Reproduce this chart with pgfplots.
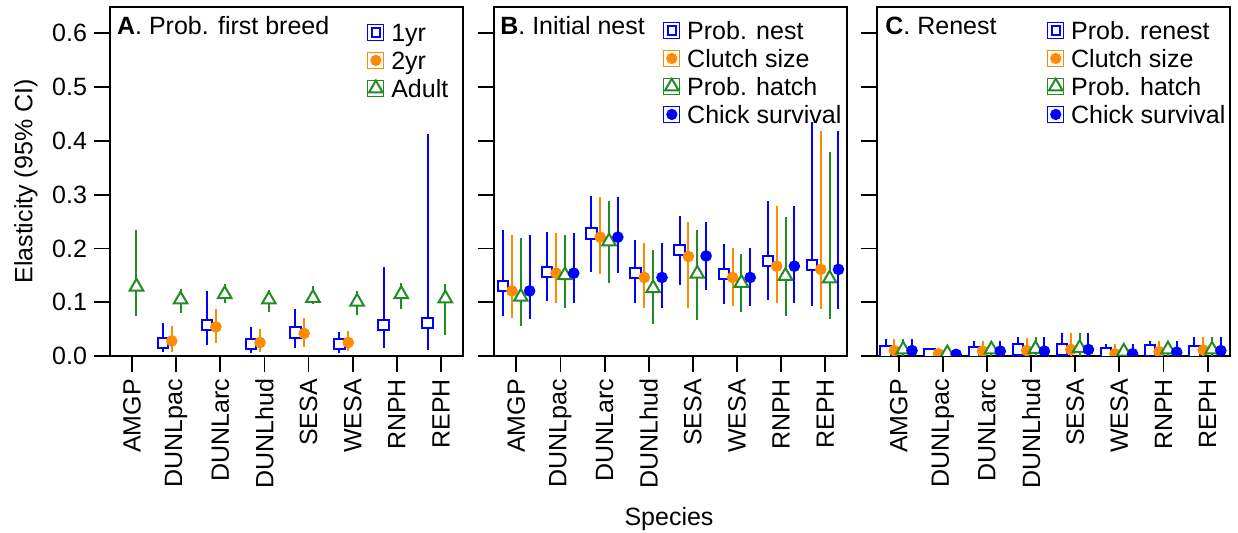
\documentclass[border=0pt]{standalone}
\usepackage{fontspec}
\setmainfont{Liberation Sans}
\usepackage{pgfplots}
\usepackage{pgfplotstable}
\pgfplotsset{compat=1.18}

\definecolor{cblue}{RGB}{0,0,255}
\definecolor{corange}{RGB}{255,140,0}
\definecolor{cgreen}{RGB}{34,139,34}
\newcommand{\fs}{\fontsize{12.5}{15}\selectfont}

% i = species index, y = elasticity, lo/hi = 95% CI
\pgfplotstableread{
i y lo hi
2 0.024 0.008 0.062
3 0.058 0.020 0.120
4 0.022 0.005 0.053
5 0.044 0.014 0.087
6 0.022 0.006 0.044
7 0.058 0.014 0.165
8 0.061 0.011 0.413
}\Aone
\pgfplotstableread{
i y lo hi
2 0.028 0.008 0.056
3 0.054 0.024 0.087
4 0.025 0.008 0.050
5 0.042 0.017 0.071
6 0.025 0.009 0.047
}\Atwo
\pgfplotstableread{
i y lo hi
1 0.129 0.075 0.234
2 0.105 0.080 0.125
3 0.115 0.099 0.134
4 0.105 0.081 0.122
5 0.108 0.097 0.130
6 0.101 0.077 0.121
7 0.115 0.087 0.135
8 0.107 0.039 0.134
}\Aad

\pgfplotstableread{
i y lo hi
1 0.130 0.074 0.234
2 0.156 0.102 0.231
3 0.228 0.157 0.298
4 0.154 0.099 0.216
5 0.197 0.132 0.261
6 0.152 0.096 0.208
7 0.177 0.105 0.289
8 0.169 0.093 0.435
}\Bnest
\pgfplotstableread{
i y lo hi
1 0.121 0.070 0.225
2 0.154 0.099 0.228
3 0.221 0.152 0.295
4 0.146 0.090 0.211
5 0.185 0.089 0.250
6 0.146 0.093 0.201
7 0.167 0.099 0.279
8 0.161 0.087 0.419
}\Bclutch
\pgfplotstableread{
i y lo hi
1 0.110 0.056 0.219
2 0.150 0.090 0.225
3 0.213 0.135 0.289
4 0.126 0.060 0.198
5 0.153 0.066 0.234
6 0.136 0.081 0.190
7 0.149 0.075 0.259
8 0.144 0.068 0.380
}\Bhatch
\pgfplotstableread{
i y lo hi
1 0.121 0.068 0.225
2 0.154 0.099 0.228
3 0.221 0.154 0.295
4 0.146 0.090 0.211
5 0.186 0.123 0.250
6 0.146 0.093 0.201
7 0.167 0.099 0.279
8 0.161 0.087 0.419
}\Bchick

\pgfplotstableread{
i y lo hi
1 0.008 0 0.032
2 0.004 0 0.012
3 0.007 0 0.028
4 0.012 0 0.036
5 0.012 0 0.043
6 0.005 0 0.022
7 0.010 0 0.028
8 0.008 0 0.036
}\Crenest
\pgfplotstableread{
i y lo hi
1 0.010 0 0.032
2 0.004 0 0.008
3 0.009 0 0.028
4 0.010 0 0.034
5 0.012 0 0.043
6 0.004 0 0.022
7 0.008 0 0.028
8 0.011 0 0.036
}\Cclutch
\pgfplotstableread{
i y lo hi
1 0.012 0 0.032
2 0.005 0 0.010
3 0.012 0 0.027
4 0.013 0 0.036
5 0.015 0 0.043
6 0.008 0 0.022
7 0.012 0 0.028
8 0.012 0 0.036
}\Chatch
\pgfplotstableread{
i y lo hi
1 0.010 0 0.032
2 0.003 0 0.008
3 0.009 0 0.028
4 0.009 0 0.036
5 0.012 0 0.043
6 0.004 0 0.022
7 0.007 0 0.028
8 0.010 0 0.036
}\Cchick

\pgfplotsset{
  panel/.style={
    scale only axis, width=176.5pt, height=174.5pt,
    anchor=south west,
    xmin=0.5, xmax=8.5, ymin=0, ymax=0.649,
    xtick={1,2,3,4,5,6,7,8},
    xticklabels={AMGP,DUNLpac,DUNLarc,DUNLhud,SESA,WESA,RNPH,REPH},
    ytick={0,0.1,0.2,0.3,0.4,0.5,0.6},
    tick align=outside, tick pos=left,
    major tick length=8pt,
    every tick/.style={black, line width=0.9pt},
    axis line style={black, line width=1pt},
    xticklabel style={rotate=90, anchor=east, font=\fs},
    yticklabel style={font=\fs},
    /pgf/number format/fixed, /pgf/number format/fixed zerofill,
    /pgf/number format/precision=1, /pgf/number format/assume math mode=true,
    clip marker paths=true,
    legend style={draw=none, fill=none, font=\fs, inner sep=0pt,
      anchor=north west, row sep=0pt, column sep=2.5pt,
      nodes={inner sep=1pt, text height=10.5pt, text depth=1.5pt}},
    legend cell align=left,
    legend image code/.code={\path (0pt,-4pt) rectangle (8pt,4pt);
      \draw[##1] plot coordinates {(4pt,0pt)};},
  },
  ebar/.style={forget plot, error bars/y dir=both, error bars/y explicit,
    error bars/error mark=none,
    error bars/error bar style={line width=1pt, solid}},
  sqL/.style={only marks, color=cblue, mark=square*, mark size=2.1pt,
    mark options={fill=white, line width=1pt}},
  dotL/.style={only marks, color=corange, mark=*, mark size=2.6pt},
  triL/.style={only marks, color=cgreen, mark=triangle*, mark size=3.9pt,
    mark options={fill=white, line width=1pt}},
  bdotL/.style={only marks, color=cblue, mark=*, mark size=2.6pt},
  sq/.style={sqL, mark size=2.6pt, ebar},
  dot/.style={dotL, mark size=2.7pt, ebar},
  tri/.style={triL, ebar},
  bdot/.style={bdotL, mark size=2.7pt, ebar},
}

\begin{document}
\begin{tikzpicture}
\useasboundingbox (0,0) rectangle (619pt,266.5pt);

% A. Prob. first breed
\begin{axis}[panel, at={(55pt,88.5pt)},
  ylabel={Elasticity (95\% CI)},
  every axis y label/.style={at={(axis description cs:-0.238,0.5)},
    rotate=90, anchor=center, font=\fs},
  legend style={at={(axis description cs:0.7283,0.9685)}}]
\addplot[sq] table[x expr=\thisrow{i}-0.3, y=y,
  y error plus expr=\thisrow{hi}-\thisrow{y},
  y error minus expr=\thisrow{y}-\thisrow{lo}] {\Aone};
\addplot[dot] table[x expr=\thisrow{i}-0.1, y=y,
  y error plus expr=\thisrow{hi}-\thisrow{y},
  y error minus expr=\thisrow{y}-\thisrow{lo}] {\Atwo};
\addplot[tri] table[x expr=\thisrow{i}+0.1, y=y,
  y error plus expr=\thisrow{hi}-\thisrow{y},
  y error minus expr=\thisrow{y}-\thisrow{lo}] {\Aad};
\addlegendimage{sqL}\addlegendentry{1yr}
\addlegendimage{dotL}\addlegendentry{2yr}
\addlegendimage{triL}\addlegendentry{Adult}
\node[anchor=base west, inner sep=0pt, font=\fs]
  at (axis description cs:0.019,0.9198) {\textbf{A}. Prob. first breed};
\end{axis}

% B. Initial nest
\begin{axis}[panel, at={(247.15pt,88.5pt)}, yticklabels={,,,,,,},
  xlabel={Species},
  every axis x label/.style={at={(axis description cs:0.495,-0.467)},
    anchor=center, font=\fs},
  legend style={at={(axis description cs:0.478,0.974)}}]
\addplot[sq] table[x expr=\thisrow{i}-0.3, y=y,
  y error plus expr=\thisrow{hi}-\thisrow{y},
  y error minus expr=\thisrow{y}-\thisrow{lo}] {\Bnest};
\addplot[dot] table[x expr=\thisrow{i}-0.1, y=y,
  y error plus expr=\thisrow{hi}-\thisrow{y},
  y error minus expr=\thisrow{y}-\thisrow{lo}] {\Bclutch};
\addplot[tri] table[x expr=\thisrow{i}+0.1, y=y,
  y error plus expr=\thisrow{hi}-\thisrow{y},
  y error minus expr=\thisrow{y}-\thisrow{lo}] {\Bhatch};
\addplot[bdot] table[x expr=\thisrow{i}+0.3, y=y,
  y error plus expr=\thisrow{hi}-\thisrow{y},
  y error minus expr=\thisrow{y}-\thisrow{lo}] {\Bchick};
\addlegendimage{sqL}\addlegendentry{Prob. nest}
\addlegendimage{dotL}\addlegendentry{Clutch size}
\addlegendimage{triL}\addlegendentry{Prob. hatch}
\addlegendimage{bdotL}\addlegendentry{Chick survival}
\node[anchor=base west, inner sep=0pt, font=\fs]
  at (axis description cs:0.016,0.9198) {\textbf{B}. Initial nest};
\end{axis}

% C. Renest
\begin{axis}[panel, at={(438.35pt,88.5pt)}, yticklabels={,,,,,,},
  legend style={at={(axis description cs:0.4824,0.974)}}]
\addplot[sq] table[x expr=\thisrow{i}-0.3, y=y,
  y error plus expr=\thisrow{hi}-\thisrow{y},
  y error minus expr=\thisrow{y}-\thisrow{lo}] {\Crenest};
\addplot[dot] table[x expr=\thisrow{i}-0.1, y=y,
  y error plus expr=\thisrow{hi}-\thisrow{y},
  y error minus expr=\thisrow{y}-\thisrow{lo}] {\Cclutch};
\addplot[tri] table[x expr=\thisrow{i}+0.1, y=y,
  y error plus expr=\thisrow{hi}-\thisrow{y},
  y error minus expr=\thisrow{y}-\thisrow{lo}] {\Chatch};
\addplot[bdot] table[x expr=\thisrow{i}+0.3, y=y,
  y error plus expr=\thisrow{hi}-\thisrow{y},
  y error minus expr=\thisrow{y}-\thisrow{lo}] {\Cchick};
\addlegendimage{sqL}\addlegendentry{Prob. renest}
\addlegendimage{dotL}\addlegendentry{Clutch size}
\addlegendimage{triL}\addlegendentry{Prob. hatch}
\addlegendimage{bdotL}\addlegendentry{Chick survival}
\node[anchor=base west, inner sep=0pt, font=\fs]
  at (axis description cs:0.0235,0.9198) {\textbf{C}. Renest};
\end{axis}
\end{tikzpicture}
\end{document}
